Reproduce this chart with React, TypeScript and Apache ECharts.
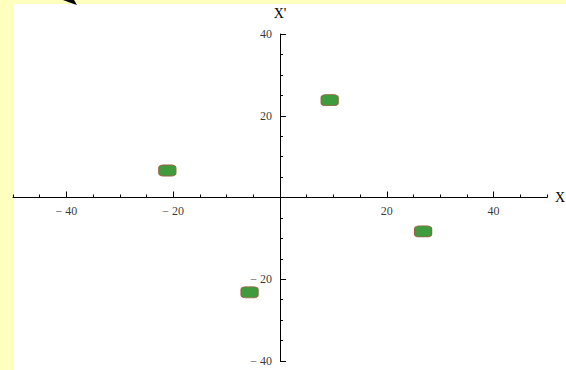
import React, { useEffect, useRef } from "react";
import * as echarts from "echarts";

// Cluster centres in the (X, X') phase plane
const clusterX = [9.3, -21.1, -5.7, 26.8];
const clusterY = [23.8, 6.6, -23.2, -8.3];

// Labelled (major) tick values on each axis
const xMajorTicks = [-40, -20, 20, 40];
const yMajorTicks = [-40, -20, 20, 40];

const xAxisName = "X";
const yAxisName = "X'";

const SERIF = "'Liberation Serif', 'DejaVu Serif', serif";

const fmt = (v: number) => (v < 0 ? "\u2212 " + Math.abs(v) : String(v));

export default function App() {
  const ref = useRef<HTMLDivElement>(null);

  useEffect(() => {
    if (!ref.current) return;
    const chart = echarts.init(ref.current, undefined, { renderer: "svg" });

    const tickLabel = {
      show: true,
      color: "#000",
      fontFamily: SERIF,
      fontSize: 12,
    };

    const minorAxis = (min: number, max: number, position: string, extra: any) => ({
      type: "value",
      min,
      max,
      interval: 5,
      position,
      axisLine: {
        onZero: true,
        onZeroAxisIndex: 0,
        lineStyle: { color: "#000", width: 1 },
      },
      axisTick: { inside: true, length: 3, lineStyle: { color: "#000" } },
      axisLabel: { show: false },
      splitLine: { show: false },
      ...extra,
    });

    const majorAxis = (min: number, max: number, position: string, ticks: number[]) => ({
      type: "value",
      min,
      max,
      position,
      axisLine: { show: false, onZero: true, onZeroAxisIndex: 0 },
      axisTick: {
        inside: true,
        length: 6,
        customValues: ticks,
        lineStyle: { color: "#000" },
      },
      axisLabel: { show: false },
      splitLine: { show: false },
    });

    const option = {
      animation: false,
      backgroundColor: "#ffffbe",
      graphic: [
        {
          type: "rect",
          z: -10,
          silent: true,
          shape: { x: 13, y: 4, width: 553, height: 366 },
          style: { fill: "#ffffff" },
        },
        {
          type: "polygon",
          silent: true,
          shape: {
            points: [
              [63, 0],
              [74, 0],
              [77, 5],
              [71, 3],
            ],
          },
          style: { fill: "#000" },
        },
      ],
      grid: {
        left: 13,
        right: 19,
        top: 34,
        bottom: 9,
        containLabel: false,
        outerBoundsMode: "none",
      },
      xAxis: [
        minorAxis(-50, 50, "bottom", {
          name: xAxisName,
          nameLocation: "end",
          nameGap: 8,
          nameTextStyle: { color: "#000", fontFamily: SERIF, fontSize: 14 },
        }),
        majorAxis(-50, 50, "bottom", xMajorTicks),
      ],
      yAxis: [
        minorAxis(-40, 40, "left", {
          name: yAxisName,
          nameLocation: "end",
          nameGap: 14,
          nameTextStyle: { color: "#000", fontFamily: SERIF, fontSize: 14 },
        }),
        majorAxis(-40, 40, "left", yMajorTicks),
      ],
      series: [
        {
          type: "scatter",
          xAxisIndex: 0,
          yAxisIndex: 0,
          symbol: "roundRect",
          symbolSize: [17, 11],
          data: clusterX.map((x, i) => [x, clusterY[i]]),
          itemStyle: {
            color: "#3f9c3c",
            borderColor: "#9a6045",
            borderWidth: 1,
            opacity: 1,
          },
        },
        {
          // tick labels along the horizontal axis
          type: "scatter",
          xAxisIndex: 0,
          yAxisIndex: 0,
          symbolSize: 0,
          silent: true,
          data: xMajorTicks.map((v) => [v, 0]),
          label: {
            ...tickLabel,
            position: "bottom",
            distance: 7,
            formatter: (p: any) => fmt(p.value[0]),
          },
        },
        {
          // tick labels along the vertical axis
          type: "scatter",
          xAxisIndex: 0,
          yAxisIndex: 0,
          symbolSize: 0,
          silent: true,
          data: yMajorTicks.map((v) => [0, v]),
          label: {
            ...tickLabel,
            position: "left",
            distance: 8,
            formatter: (p: any) => fmt(p.value[1]),
          },
        },
      ],
    };

    chart.setOption(option as any);
    return () => chart.dispose();
  }, []);

  return (
    <div
      ref={ref}
      style={{ position: "absolute", left: 0, top: 0, width: 566, height: 370 }}
    />
  );
}
